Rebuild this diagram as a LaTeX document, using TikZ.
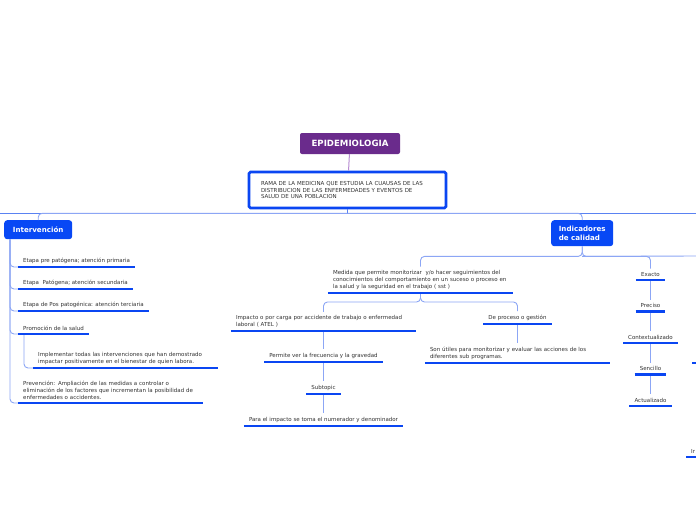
\documentclass[tikz,border=0pt]{standalone}
\usepackage{fontspec}
\setmainfont{DejaVu Sans}
\usetikzlibrary{positioning}

\definecolor{rootpurple}{RGB}{106,43,140}
\definecolor{rootlink}{RGB}{184,140,210}
\definecolor{mainblue}{RGB}{8,72,245}
\definecolor{barblue}{RGB}{10,70,242}
\definecolor{linkblue}{RGB}{140,166,245}
\definecolor{trunkblue}{RGB}{90,130,242}
\definecolor{textgray}{RGB}{50,50,50}

\begin{document}
\begin{tikzpicture}[x=1pt, y=-1pt, node distance=31.5pt,
	root/.style={rectangle, rounded corners=2pt, fill=rootpurple, text=white, minimum width=100pt, minimum height=21pt, font=\fontsize{8.6}{10}\selectfont\bfseries},
	defbox/.style={rectangle, rounded corners=1.5pt, draw=barblue, line width=2.6pt, fill=white, minimum width=197pt, minimum height=36pt, text width=173pt, align=left, text=textgray, font=\fontsize{5.5}{6.6}\selectfont},
	mainbox/.style={rectangle, rounded corners=3pt, fill=mainblue, text=white, inner xsep=6.5pt, align=left, font=\fontsize{7.1}{9}\selectfont\bfseries},
	topic/.style={rectangle, inner xsep=5pt, inner ysep=3.5pt, align=left, text=textgray, font=\fontsize{5.5}{6.8}\selectfont},
	wide/.style={topic, text width=175pt},
	bar/.style={line width=2.6pt, draw=barblue},
	link/.style={draw=linkblue, line width=0.9pt, rounded corners=4pt},
	trunk/.style={draw=trunkblue, line width=1pt}]

	\useasboundingbox (0,0) rectangle (696,520);
	\fill[white] (0,0) rectangle (696,520);
	\clip (0,0) rectangle (696,520);

	% central topic and its definition
	\node (epi) [root] at (350,143.5) {EPIDEMIOLOGIA};
	\node (rama) [defbox] at (347.5,190) {RAMA DE LA MEDICINA QUE ESTUDIA LA CUAUSAS DE LAS\\DISTRIBUCION DE LAS ENFERMEDADES Y EVENTOS DE\\SALUD DE UNA POBLACION};

	% main branches
	\node (interv) [mainbox, anchor=north west, minimum width=68pt, minimum height=19pt] at (4,220) {Intervención};
	\node (indic) [mainbox, anchor=north west, minimum width=62pt, minimum height=26pt] at (551,220) {Indicadores\\de calidad};

	% Intervención
	\node (pre) [topic, anchor=south west] at (18,267) {Etapa pre patógena; atención primaria};
	\node (pat) [topic, anchor=south west] at (18,289) {Etapa \ Patógena; atención secundaria};
	\node (pos) [topic, anchor=south west] at (18,311) {Etapa de Pos patogénica: atención terciaria};
	\node (prom) [topic, anchor=south west] at (18,334) {Promoción de la salud};
	\node (impl) [wide, anchor=south west] at (33,368) {Implementar todas las intervenciones que han demostrado\\impactar positivamente en el bienestar de quien labora.};
	\node (prev) [wide, anchor=south west] at (18,403) {Prevención: Ampliación de las medidas a controlar o\\eliminación de los factores que incrementan la posibilidad de\\enfermedades o accidentes.};

	% Indicadores de calidad
	\node (medida) [wide, anchor=south] at (420.5,293) {Medida que permite monitorizar \ y/o hacer seguimientos del\\conocimientos del comportamiento en un suceso o proceso en\\la salud y la seguridad en el trabajo ( sst )};
	\node (impacto) [wide, anchor=south] at (323.5,331) {Impacto o por carga por accidente de trabajo o enfermedad\\laboral ( ATEL )};
	\node (permite) [topic, anchor=south] at (323.5,362) {Permite ver la frecuencia y la gravedad};
	\node (subtopic) [topic, anchor=south] at (323.5,394) {Subtopic};
	\node (para) [topic, anchor=south] at (323.5,426) {Para el impacto se toma el numerador y denominador};
	\node (deproc) [topic, anchor=south] at (517.5,324) {De proceso o gestión};
	\node (utiles) [wide, anchor=south] at (517.5,363) {Son útiles para monitorizar y evaluar las acciones de los\\diferentes sub programas.};

	\node (exacto) [topic, anchor=south] at (650.5,280) {Exacto};
	\node (preciso) [topic, below of=exacto] {Preciso};
	\node (context) [topic, below of=preciso] {Contextualizado};
	\node (sencillo) [topic, below of=context] {Sencillo};
	\node (actual) [topic, below of=sencillo] {Actualizado};

	% cut at the right edge
	\node (ir) [topic, anchor=south west] at (686,457) {Ir};
	\coordinate (rbar) at (692,363);
	\coordinate (ledge) at (0,213);
	\coordinate (redge) at (696,213);
	\coordinate (iedge) at (696,256);

	% connectors
	\draw [rootlink, line width=1pt] (epi) -- (rama);
	\draw [trunk] (ledge) -- (redge);
	\draw [trunk] (rama.south) -- ++(0,4);
	\draw [link] (rama.south) ++(0,4) -| (interv.north);
	\draw [link] (rama.south) ++(0,4) -| (indic.north);

	\foreach \n in {pre,pat,pos,prom,prev}
		\draw [link] (interv.south west) ++(6,0) |- (\n.south west);
	\draw [link] (prom.south west) ++(6,0) |- (impl.south west);

	\draw [link] (indic.south) -- ++(0,10) -| (medida.north);
	\draw [link] (indic.south) -- ++(0,10) -| (exacto.north);
	\draw [link] (indic.south) ++(0,10) -- (iedge);
	\draw [link] (medida.south) -- ++(0,9) -| (impacto.north);
	\draw [link] (medida.south) -- ++(0,9) -| (deproc.north);
	\draw [link] (impacto.south) -- (permite.north);
	\draw [link] (permite.south) -- (subtopic.north);
	\draw [link] (subtopic.south) -- (para.north);
	\draw [link] (deproc.south) -- (utiles.north);
	\draw [link] (exacto.south) -- (preciso.north);
	\draw [link] (preciso.south) -- (context.north);
	\draw [link] (context.south) -- (sencillo.north);
	\draw [link] (sencillo.south) -- (actual.north);

	% underlines
	\foreach \n in {pre,pat,pos,prom,impl,prev,medida,impacto,permite,subtopic,para,deproc,utiles,exacto,preciso,context,sencillo,actual,ir}
		\draw [bar] (\n.south west) -- (\n.south east);
	\draw [bar] (rbar) -- ++(10,0);
\end{tikzpicture}
\end{document}
